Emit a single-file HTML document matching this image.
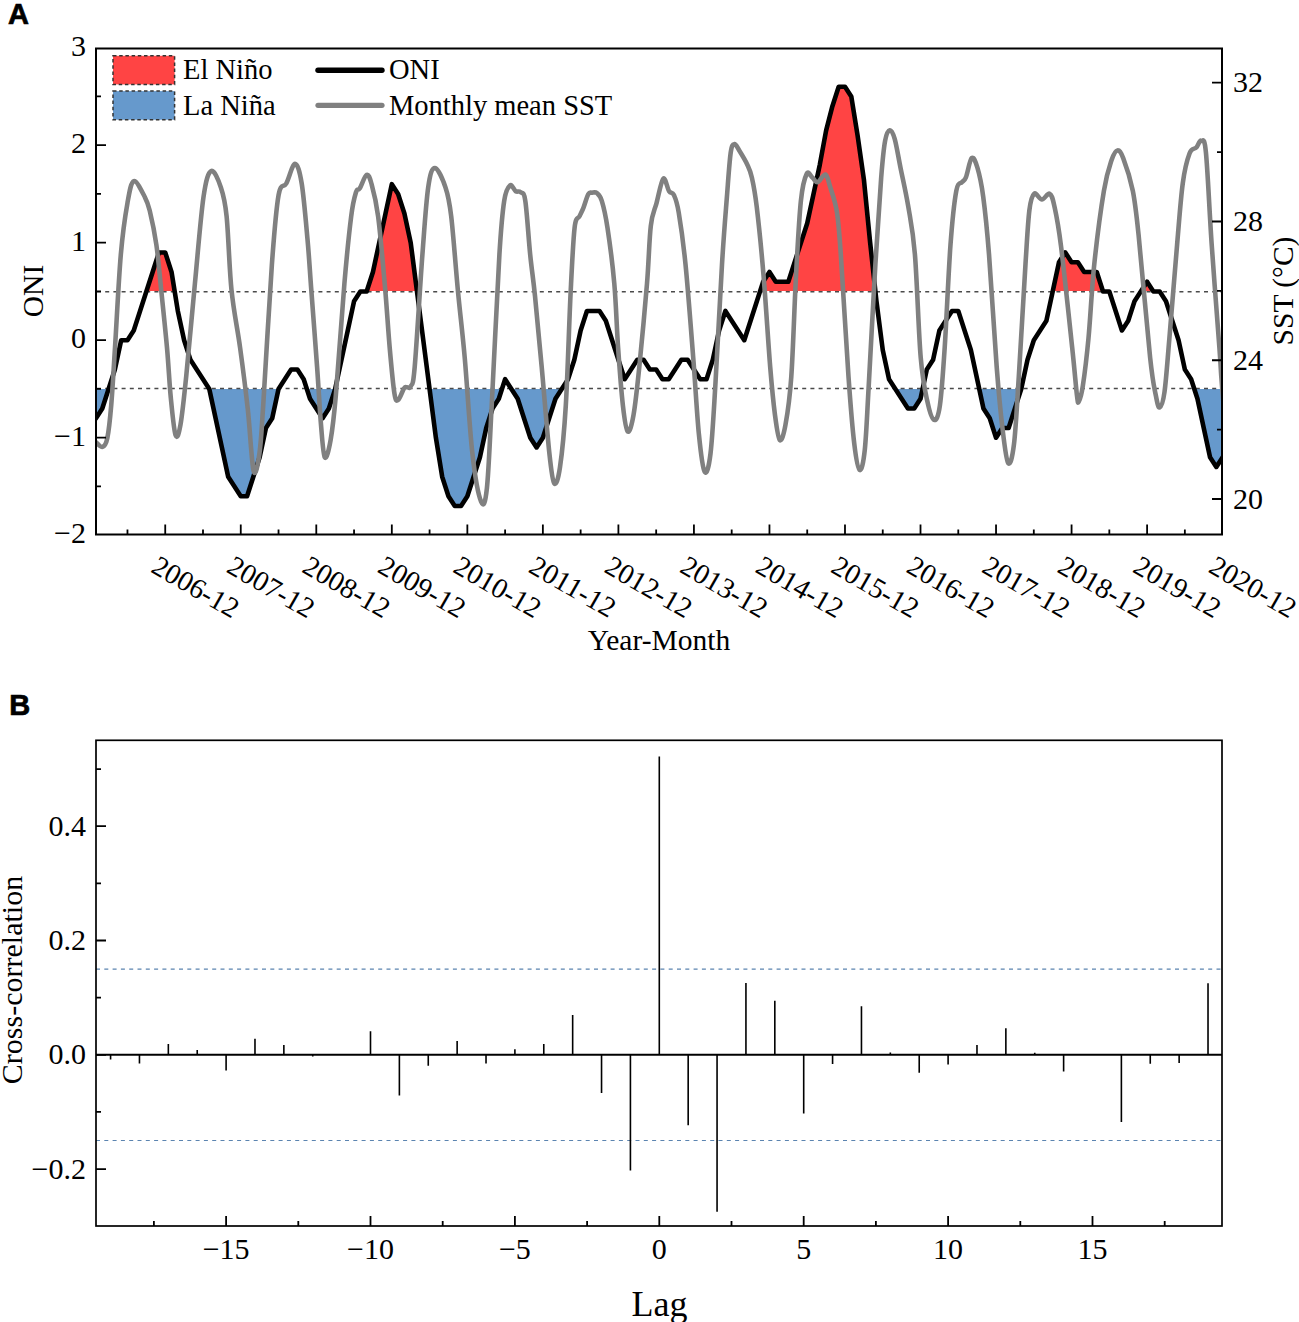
<!DOCTYPE html><html><head><meta charset="utf-8"><style>html,body{margin:0;padding:0;background:#fff;}svg{display:block;}</style></head><body>
<svg width="1299" height="1322" viewBox="0 0 1299 1322">
<rect width="1299" height="1322" fill="#fff"/>
<defs><clipPath id="cEl"><rect x="96.00" y="48.50" width="1126.00" height="242.50"/></clipPath>
<clipPath id="cPlot"><rect x="96" y="48" width="1126" height="486.5"/></clipPath>
<clipPath id="cLa"><rect x="96.00" y="389.00" width="1126.00" height="145.50"/></clipPath></defs>
<path d="M96.00,418.20 L102.29,408.45 L108.59,388.95 L114.88,369.45 L121.18,340.20 L127.47,340.20 L133.76,330.45 L140.06,310.95 L146.35,291.45 L152.65,271.95 L158.94,252.45 L165.23,252.45 L171.53,271.95 L177.82,310.95 L184.12,340.20 L190.41,359.70 L196.70,369.45 L203.00,379.20 L209.29,388.95 L215.59,418.20 L221.88,447.45 L228.17,476.70 L234.47,486.45 L240.76,496.20 L247.06,496.20 L253.35,476.70 L259.64,457.20 L265.94,427.95 L272.23,418.20 L278.53,388.95 L284.82,379.20 L291.11,369.45 L297.41,369.45 L303.70,379.20 L310.00,398.70 L316.29,408.45 L322.58,418.20 L328.88,408.45 L335.17,388.95 L341.47,359.70 L347.76,330.45 L354.05,301.20 L360.35,291.45 L366.64,291.45 L372.94,271.95 L379.23,242.70 L385.52,213.45 L391.82,184.20 L398.11,193.95 L404.41,213.45 L410.70,242.70 L416.99,291.45 L423.29,340.20 L429.58,388.95 L435.88,437.70 L442.17,476.70 L448.46,496.20 L454.76,505.95 L461.05,505.95 L467.35,496.20 L473.64,476.70 L479.93,457.20 L486.23,427.95 L492.52,408.45 L498.82,398.70 L505.11,379.20 L511.40,388.95 L517.70,398.70 L523.99,418.20 L530.29,437.70 L536.58,447.45 L542.87,437.70 L549.17,418.20 L555.46,398.70 L561.76,388.95 L568.05,379.20 L574.34,359.70 L580.64,330.45 L586.93,310.95 L593.23,310.95 L599.52,310.95 L605.81,320.70 L612.11,340.20 L618.40,359.70 L624.70,379.20 L630.99,369.45 L637.28,359.70 L643.58,359.70 L649.87,369.45 L656.17,369.45 L662.46,379.20 L668.75,379.20 L675.05,369.45 L681.34,359.70 L687.64,359.70 L693.93,369.45 L700.22,379.20 L706.52,379.20 L712.81,359.70 L719.11,330.45 L725.40,310.95 L731.69,320.70 L737.99,330.45 L744.28,340.20 L750.58,320.70 L756.87,301.20 L763.16,281.70 L769.46,271.95 L775.75,281.70 L782.05,281.70 L788.34,281.70 L794.63,262.20 L800.93,242.70 L807.22,223.20 L813.52,193.95 L819.81,164.70 L826.10,130.57 L832.40,106.20 L838.69,86.70 L844.99,86.70 L851.28,96.45 L857.57,135.45 L863.87,179.32 L870.16,242.70 L876.46,301.20 L882.75,349.95 L889.04,379.20 L895.34,388.95 L901.63,398.70 L907.93,408.45 L914.22,408.45 L920.51,398.70 L926.81,369.45 L933.10,359.70 L939.40,330.45 L945.69,320.70 L951.98,310.95 L958.28,310.95 L964.57,330.45 L970.87,349.95 L977.16,379.20 L983.45,408.45 L989.75,418.20 L996.04,437.70 L1002.34,427.95 L1008.63,427.95 L1014.92,408.45 L1021.22,388.95 L1027.51,359.70 L1033.81,340.20 L1040.10,330.45 L1046.39,320.70 L1052.69,291.45 L1058.98,262.20 L1065.28,252.45 L1071.57,262.20 L1077.86,262.20 L1084.16,271.95 L1090.45,271.95 L1096.75,271.95 L1103.04,291.45 L1109.33,291.45 L1115.63,310.95 L1121.92,330.45 L1128.22,320.70 L1134.51,301.20 L1140.80,291.45 L1147.10,281.70 L1153.39,291.45 L1159.69,291.45 L1165.98,301.20 L1172.27,320.70 L1178.57,340.20 L1184.86,369.45 L1191.16,379.20 L1197.45,398.70 L1203.74,427.95 L1210.04,457.20 L1216.33,466.95 L1222.63,457.20 L1222.63,291.00 L96.00,291.00 Z" fill="#ff4444" clip-path="url(#cEl)"/>
<path d="M96.00,418.20 L102.29,408.45 L108.59,388.95 L114.88,369.45 L121.18,340.20 L127.47,340.20 L133.76,330.45 L140.06,310.95 L146.35,291.45 L152.65,271.95 L158.94,252.45 L165.23,252.45 L171.53,271.95 L177.82,310.95 L184.12,340.20 L190.41,359.70 L196.70,369.45 L203.00,379.20 L209.29,388.95 L215.59,418.20 L221.88,447.45 L228.17,476.70 L234.47,486.45 L240.76,496.20 L247.06,496.20 L253.35,476.70 L259.64,457.20 L265.94,427.95 L272.23,418.20 L278.53,388.95 L284.82,379.20 L291.11,369.45 L297.41,369.45 L303.70,379.20 L310.00,398.70 L316.29,408.45 L322.58,418.20 L328.88,408.45 L335.17,388.95 L341.47,359.70 L347.76,330.45 L354.05,301.20 L360.35,291.45 L366.64,291.45 L372.94,271.95 L379.23,242.70 L385.52,213.45 L391.82,184.20 L398.11,193.95 L404.41,213.45 L410.70,242.70 L416.99,291.45 L423.29,340.20 L429.58,388.95 L435.88,437.70 L442.17,476.70 L448.46,496.20 L454.76,505.95 L461.05,505.95 L467.35,496.20 L473.64,476.70 L479.93,457.20 L486.23,427.95 L492.52,408.45 L498.82,398.70 L505.11,379.20 L511.40,388.95 L517.70,398.70 L523.99,418.20 L530.29,437.70 L536.58,447.45 L542.87,437.70 L549.17,418.20 L555.46,398.70 L561.76,388.95 L568.05,379.20 L574.34,359.70 L580.64,330.45 L586.93,310.95 L593.23,310.95 L599.52,310.95 L605.81,320.70 L612.11,340.20 L618.40,359.70 L624.70,379.20 L630.99,369.45 L637.28,359.70 L643.58,359.70 L649.87,369.45 L656.17,369.45 L662.46,379.20 L668.75,379.20 L675.05,369.45 L681.34,359.70 L687.64,359.70 L693.93,369.45 L700.22,379.20 L706.52,379.20 L712.81,359.70 L719.11,330.45 L725.40,310.95 L731.69,320.70 L737.99,330.45 L744.28,340.20 L750.58,320.70 L756.87,301.20 L763.16,281.70 L769.46,271.95 L775.75,281.70 L782.05,281.70 L788.34,281.70 L794.63,262.20 L800.93,242.70 L807.22,223.20 L813.52,193.95 L819.81,164.70 L826.10,130.57 L832.40,106.20 L838.69,86.70 L844.99,86.70 L851.28,96.45 L857.57,135.45 L863.87,179.32 L870.16,242.70 L876.46,301.20 L882.75,349.95 L889.04,379.20 L895.34,388.95 L901.63,398.70 L907.93,408.45 L914.22,408.45 L920.51,398.70 L926.81,369.45 L933.10,359.70 L939.40,330.45 L945.69,320.70 L951.98,310.95 L958.28,310.95 L964.57,330.45 L970.87,349.95 L977.16,379.20 L983.45,408.45 L989.75,418.20 L996.04,437.70 L1002.34,427.95 L1008.63,427.95 L1014.92,408.45 L1021.22,388.95 L1027.51,359.70 L1033.81,340.20 L1040.10,330.45 L1046.39,320.70 L1052.69,291.45 L1058.98,262.20 L1065.28,252.45 L1071.57,262.20 L1077.86,262.20 L1084.16,271.95 L1090.45,271.95 L1096.75,271.95 L1103.04,291.45 L1109.33,291.45 L1115.63,310.95 L1121.92,330.45 L1128.22,320.70 L1134.51,301.20 L1140.80,291.45 L1147.10,281.70 L1153.39,291.45 L1159.69,291.45 L1165.98,301.20 L1172.27,320.70 L1178.57,340.20 L1184.86,369.45 L1191.16,379.20 L1197.45,398.70 L1203.74,427.95 L1210.04,457.20 L1216.33,466.95 L1222.63,457.20 L1222.63,389.00 L96.00,389.00 Z" fill="#6699cc" clip-path="url(#cLa)"/>
<line x1="97.0" y1="291.80" x2="1222.0" y2="291.80" stroke="#4a4a4a" stroke-width="1.5" stroke-dasharray="4 4.2"/>
<line x1="97.0" y1="388.50" x2="1222.0" y2="388.50" stroke="#4a4a4a" stroke-width="1.5" stroke-dasharray="4 4.2"/>
<g clip-path="url(#cPlot)">
<path d="M96.00,418.20 L102.29,408.45 L108.59,388.95 L114.88,369.45 L121.18,340.20 L127.47,340.20 L133.76,330.45 L140.06,310.95 L146.35,291.45 L152.65,271.95 L158.94,252.45 L165.23,252.45 L171.53,271.95 L177.82,310.95 L184.12,340.20 L190.41,359.70 L196.70,369.45 L203.00,379.20 L209.29,388.95 L215.59,418.20 L221.88,447.45 L228.17,476.70 L234.47,486.45 L240.76,496.20 L247.06,496.20 L253.35,476.70 L259.64,457.20 L265.94,427.95 L272.23,418.20 L278.53,388.95 L284.82,379.20 L291.11,369.45 L297.41,369.45 L303.70,379.20 L310.00,398.70 L316.29,408.45 L322.58,418.20 L328.88,408.45 L335.17,388.95 L341.47,359.70 L347.76,330.45 L354.05,301.20 L360.35,291.45 L366.64,291.45 L372.94,271.95 L379.23,242.70 L385.52,213.45 L391.82,184.20 L398.11,193.95 L404.41,213.45 L410.70,242.70 L416.99,291.45 L423.29,340.20 L429.58,388.95 L435.88,437.70 L442.17,476.70 L448.46,496.20 L454.76,505.95 L461.05,505.95 L467.35,496.20 L473.64,476.70 L479.93,457.20 L486.23,427.95 L492.52,408.45 L498.82,398.70 L505.11,379.20 L511.40,388.95 L517.70,398.70 L523.99,418.20 L530.29,437.70 L536.58,447.45 L542.87,437.70 L549.17,418.20 L555.46,398.70 L561.76,388.95 L568.05,379.20 L574.34,359.70 L580.64,330.45 L586.93,310.95 L593.23,310.95 L599.52,310.95 L605.81,320.70 L612.11,340.20 L618.40,359.70 L624.70,379.20 L630.99,369.45 L637.28,359.70 L643.58,359.70 L649.87,369.45 L656.17,369.45 L662.46,379.20 L668.75,379.20 L675.05,369.45 L681.34,359.70 L687.64,359.70 L693.93,369.45 L700.22,379.20 L706.52,379.20 L712.81,359.70 L719.11,330.45 L725.40,310.95 L731.69,320.70 L737.99,330.45 L744.28,340.20 L750.58,320.70 L756.87,301.20 L763.16,281.70 L769.46,271.95 L775.75,281.70 L782.05,281.70 L788.34,281.70 L794.63,262.20 L800.93,242.70 L807.22,223.20 L813.52,193.95 L819.81,164.70 L826.10,130.57 L832.40,106.20 L838.69,86.70 L844.99,86.70 L851.28,96.45 L857.57,135.45 L863.87,179.32 L870.16,242.70 L876.46,301.20 L882.75,349.95 L889.04,379.20 L895.34,388.95 L901.63,398.70 L907.93,408.45 L914.22,408.45 L920.51,398.70 L926.81,369.45 L933.10,359.70 L939.40,330.45 L945.69,320.70 L951.98,310.95 L958.28,310.95 L964.57,330.45 L970.87,349.95 L977.16,379.20 L983.45,408.45 L989.75,418.20 L996.04,437.70 L1002.34,427.95 L1008.63,427.95 L1014.92,408.45 L1021.22,388.95 L1027.51,359.70 L1033.81,340.20 L1040.10,330.45 L1046.39,320.70 L1052.69,291.45 L1058.98,262.20 L1065.28,252.45 L1071.57,262.20 L1077.86,262.20 L1084.16,271.95 L1090.45,271.95 L1096.75,271.95 L1103.04,291.45 L1109.33,291.45 L1115.63,310.95 L1121.92,330.45 L1128.22,320.70 L1134.51,301.20 L1140.80,291.45 L1147.10,281.70 L1153.39,291.45 L1159.69,291.45 L1165.98,301.20 L1172.27,320.70 L1178.57,340.20 L1184.86,369.45 L1191.16,379.20 L1197.45,398.70 L1203.74,427.95 L1210.04,457.20 L1216.33,466.95 L1222.63,457.20" fill="none" stroke="#000" stroke-width="4.6" stroke-linejoin="round" stroke-linecap="round"/>
<path d="M95.80,442.00 C96.92,442.82 100.58,447.53 102.50,446.90 C104.42,446.27 105.85,445.10 107.30,438.20 C108.75,431.30 109.92,420.58 111.20,405.50 C112.48,390.42 113.40,372.83 115.00,347.70 C116.60,322.57 118.72,278.85 120.80,254.70 C122.88,230.55 125.32,215.05 127.50,202.80 C129.68,190.55 131.02,182.17 133.90,181.20 C136.78,180.23 142.17,192.12 144.80,197.00 C147.43,201.88 147.77,202.50 149.70,210.50 C151.63,218.50 154.48,231.75 156.40,245.00 C158.32,258.25 159.43,272.88 161.20,290.00 C162.97,307.12 165.40,329.73 167.00,347.70 C168.60,365.67 169.37,383.20 170.80,397.80 C172.23,412.40 173.98,430.82 175.60,435.30 C177.22,439.78 178.73,434.48 180.50,424.70 C182.27,414.92 183.80,400.12 186.20,376.60 C188.60,353.08 192.02,313.53 194.90,283.60 C197.78,253.67 200.78,215.77 203.50,197.00 C206.22,178.23 208.30,172.60 211.20,171.00 C214.10,169.40 218.33,179.87 220.90,187.40 C223.47,194.93 224.83,199.10 226.60,216.20 C228.37,233.30 229.25,268.08 231.50,290.00 C233.75,311.92 237.38,327.82 240.10,347.70 C242.82,367.58 245.55,388.77 247.80,409.30 C250.05,429.83 251.67,463.52 253.60,470.90 C255.53,478.28 257.80,464.50 259.40,453.60 C261.00,442.70 261.12,437.05 263.20,405.50 C265.28,373.95 269.33,299.38 271.90,264.30 C274.47,229.22 276.20,208.47 278.60,195.00 C281.00,181.53 283.57,188.68 286.30,183.50 C289.03,178.32 292.43,163.90 295.00,163.90 C297.57,163.90 299.62,170.93 301.70,183.50 C303.78,196.07 305.90,221.55 307.50,239.30 C309.10,257.05 309.70,268.72 311.30,290.00 C312.90,311.28 315.48,344.55 317.10,367.00 C318.72,389.45 319.72,409.63 321.00,424.70 C322.28,439.77 323.20,454.83 324.80,457.40 C326.40,459.97 328.77,450.37 330.60,440.10 C332.43,429.83 333.50,421.88 335.80,395.80 C338.10,369.72 341.83,313.53 344.40,283.60 C346.97,253.67 349.27,231.43 351.20,216.20 C353.13,200.97 354.57,196.85 356.00,192.20 C357.43,187.55 358.03,191.18 359.80,188.30 C361.57,185.42 364.67,175.70 366.60,174.90 C368.53,174.10 369.48,176.62 371.40,183.50 C373.32,190.38 375.83,198.95 378.10,216.20 C380.37,233.45 383.07,265.08 385.00,287.00 C386.93,308.92 388.12,329.88 389.70,347.70 C391.28,365.52 393.07,385.23 394.50,393.90 C395.93,402.57 396.70,400.65 398.30,399.70 C399.90,398.75 402.65,390.28 404.10,388.20 C405.55,386.12 405.88,387.53 407.00,387.20 C408.12,386.87 409.52,389.57 410.80,386.20 C412.08,382.83 412.77,388.92 414.70,367.00 C416.63,345.08 420.15,284.63 422.40,254.70 C424.65,224.77 426.12,201.83 428.20,187.40 C430.28,172.97 432.02,168.10 434.90,168.10 C437.78,168.10 442.78,179.38 445.50,187.40 C448.22,195.42 449.12,198.83 451.20,216.20 C453.28,233.57 455.75,268.07 458.00,291.60 C460.25,315.13 462.30,330.40 464.70,357.40 C467.10,384.40 469.67,429.55 472.40,453.60 C475.13,477.65 478.68,495.93 481.10,501.70 C483.52,507.47 485.13,504.23 486.90,488.20 C488.67,472.17 489.62,444.42 491.70,405.50 C493.78,366.58 497.32,288.82 499.40,254.70 C501.48,220.58 502.43,212.35 504.20,200.80 C505.97,189.25 508.08,187.00 510.00,185.40 C511.92,183.80 513.95,190.07 515.70,191.20 C517.45,192.33 518.90,190.60 520.50,192.20 C522.10,193.80 523.68,190.38 525.30,200.80 C526.92,211.22 528.58,238.83 530.20,254.70 C531.82,270.57 533.08,277.28 535.00,296.00 C536.92,314.72 539.30,340.73 541.70,367.00 C544.10,393.27 547.32,434.20 549.40,453.60 C551.48,473.00 552.43,481.15 554.20,483.40 C555.97,485.65 558.07,480.08 560.00,467.10 C561.93,454.12 564.03,434.48 565.80,405.50 C567.57,376.52 569.13,322.82 570.60,293.20 C572.07,263.58 573.10,240.63 574.60,227.80 C576.10,214.97 578.12,219.57 579.60,216.20 C581.08,212.83 582.05,211.28 583.50,207.60 C584.95,203.92 586.87,196.58 588.30,194.10 C589.73,191.62 590.67,192.87 592.10,192.70 C593.53,192.53 595.28,191.75 596.90,193.10 C598.52,194.45 600.03,195.02 601.80,200.80 C603.57,206.58 605.42,214.00 607.50,227.80 C609.58,241.60 612.53,263.62 614.30,283.60 C616.07,303.58 616.67,327.38 618.10,347.70 C619.53,368.02 621.30,391.53 622.90,405.50 C624.50,419.47 625.93,429.90 627.70,431.50 C629.47,433.10 631.57,425.85 633.50,415.10 C635.43,404.35 637.05,388.92 639.30,367.00 C641.55,345.08 645.08,307.12 647.00,283.60 C648.92,260.08 649.20,239.37 650.80,225.90 C652.40,212.43 654.52,210.67 656.60,202.80 C658.68,194.93 661.22,180.63 663.30,178.70 C665.38,176.77 667.33,188.48 669.10,191.20 C670.87,193.92 672.30,191.47 673.90,195.00 C675.50,198.53 676.77,200.85 678.70,212.40 C680.63,223.95 683.08,240.13 685.50,264.30 C687.92,288.47 690.97,329.07 693.20,357.40 C695.43,385.73 696.98,415.22 698.90,434.30 C700.82,453.38 702.77,468.68 704.70,471.90 C706.63,475.12 708.73,467.88 710.50,453.60 C712.27,439.32 713.38,417.75 715.30,386.20 C717.22,354.65 720.07,295.83 722.00,264.30 C723.93,232.77 725.45,215.60 726.90,197.00 C728.35,178.40 729.43,161.52 730.70,152.70 C731.97,143.88 733.05,144.42 734.50,144.10 C735.95,143.78 737.30,147.43 739.40,150.80 C741.50,154.17 745.02,159.82 747.10,164.30 C749.18,168.78 750.30,170.65 751.90,177.70 C753.50,184.75 754.77,190.38 756.70,206.60 C758.63,222.82 761.25,248.27 763.50,275.00 C765.75,301.73 768.28,343.65 770.20,367.00 C772.12,390.35 773.40,402.92 775.00,415.10 C776.60,427.28 778.05,438.50 779.80,440.10 C781.55,441.70 783.58,435.28 785.50,424.70 C787.42,414.12 789.53,401.72 791.30,376.60 C793.07,351.48 794.50,303.30 796.10,274.00 C797.70,244.70 799.13,217.48 800.90,200.80 C802.67,184.12 804.77,177.75 806.70,173.90 C808.63,170.05 810.67,176.32 812.50,177.70 C814.33,179.08 815.55,182.73 817.70,182.20 C819.85,181.67 823.32,173.70 825.40,174.50 C827.48,175.30 828.28,180.75 830.20,187.00 C832.12,193.25 835.13,200.78 836.90,212.00 C838.67,223.22 838.87,226.87 840.80,254.30 C842.73,281.73 846.25,344.98 848.50,376.60 C850.75,408.22 852.43,428.43 854.30,444.00 C856.17,459.57 857.95,469.05 859.70,470.00 C861.45,470.95 863.30,463.67 864.80,449.70 C866.30,435.73 866.93,417.15 868.70,386.20 C870.47,355.25 873.32,298.80 875.40,264.00 C877.48,229.20 879.58,197.93 881.20,177.40 C882.82,156.87 883.65,148.67 885.10,140.80 C886.55,132.93 888.30,130.52 889.90,130.20 C891.50,129.88 892.93,132.65 894.70,138.90 C896.47,145.15 898.25,156.48 900.50,167.70 C902.75,178.92 905.80,191.77 908.20,206.20 C910.60,220.63 912.82,229.10 914.90,254.30 C916.98,279.50 918.62,332.85 920.70,357.40 C922.78,381.95 925.17,391.18 927.40,401.60 C929.63,412.02 932.02,419.25 934.10,419.90 C936.18,420.55 938.13,417.53 939.90,405.50 C941.67,393.47 942.93,374.50 944.70,347.70 C946.47,320.90 948.57,270.85 950.50,244.70 C952.43,218.55 954.38,201.22 956.30,190.80 C958.22,180.38 960.40,184.43 962.00,182.20 C963.60,179.97 964.28,181.42 965.90,177.40 C967.52,173.38 969.78,159.72 971.70,158.10 C973.62,156.48 975.48,161.28 977.40,167.70 C979.32,174.12 981.27,182.17 983.20,196.60 C985.13,211.03 986.75,225.90 989.00,254.30 C991.25,282.70 994.45,337.95 996.70,367.00 C998.95,396.05 1000.58,412.57 1002.50,428.60 C1004.42,444.63 1006.28,460.63 1008.20,463.20 C1010.12,465.77 1012.23,458.43 1014.00,444.00 C1015.77,429.57 1016.88,406.60 1018.80,376.60 C1020.72,346.60 1023.73,291.75 1025.50,264.00 C1027.27,236.25 1027.95,221.82 1029.40,210.10 C1030.85,198.38 1032.12,195.47 1034.20,193.70 C1036.28,191.93 1039.33,199.50 1041.90,199.50 C1044.47,199.50 1047.52,192.58 1049.60,193.70 C1051.68,194.82 1052.50,197.48 1054.40,206.20 C1056.30,214.92 1058.03,222.42 1061.00,246.00 C1063.97,269.58 1069.53,322.73 1072.20,347.70 C1074.87,372.67 1075.88,386.88 1077.00,395.80 C1078.12,404.72 1077.93,402.80 1078.90,401.20 C1079.87,399.60 1081.20,396.72 1082.80,386.20 C1084.40,375.68 1086.58,358.47 1088.50,338.10 C1090.42,317.73 1091.73,288.55 1094.30,264.00 C1096.87,239.45 1101.02,208.13 1103.90,190.80 C1106.78,173.47 1109.35,166.73 1111.60,160.00 C1113.85,153.27 1115.47,150.72 1117.40,150.40 C1119.33,150.08 1120.63,151.37 1123.20,158.10 C1125.77,164.83 1130.23,177.97 1132.80,190.80 C1135.37,203.63 1135.72,207.33 1138.60,235.10 C1141.48,262.87 1147.22,330.62 1150.10,357.40 C1152.98,384.18 1154.30,387.47 1155.90,395.80 C1157.50,404.13 1158.27,408.03 1159.70,407.40 C1161.13,406.77 1162.88,403.55 1164.50,392.00 C1166.12,380.45 1167.30,362.65 1169.40,338.10 C1171.50,313.55 1174.87,270.53 1177.10,244.70 C1179.33,218.87 1180.72,198.33 1182.80,183.10 C1184.88,167.87 1187.35,159.23 1189.60,153.30 C1191.85,147.37 1194.38,149.58 1196.30,147.50 C1198.22,145.42 1199.50,140.00 1201.10,140.80 C1202.70,141.60 1204.13,134.98 1205.90,152.30 C1207.67,169.62 1209.45,212.13 1211.70,244.70 C1213.95,277.27 1217.80,325.72 1219.40,347.70 C1221.00,369.68 1220.53,366.22 1221.30,376.60 C1222.07,386.98 1223.55,404.43 1224.00,410.00" fill="none" stroke="#808080" stroke-width="4.6" stroke-linejoin="round" stroke-linecap="round"/>
</g>
<rect x="96.0" y="48.5" width="1126.0" height="486.0" fill="none" stroke="#000" stroke-width="2"/>
<text x="86" y="532.70" font-family="Liberation Serif" font-size="30" text-anchor="end" dominant-baseline="central">−2</text>
<text x="86" y="435.20" font-family="Liberation Serif" font-size="30" text-anchor="end" dominant-baseline="central">−1</text>
<text x="86" y="337.70" font-family="Liberation Serif" font-size="30" text-anchor="end" dominant-baseline="central">0</text>
<text x="86" y="240.20" font-family="Liberation Serif" font-size="30" text-anchor="end" dominant-baseline="central">1</text>
<text x="86" y="142.70" font-family="Liberation Serif" font-size="30" text-anchor="end" dominant-baseline="central">2</text>
<text x="86" y="45.20" font-family="Liberation Serif" font-size="30" text-anchor="end" dominant-baseline="central">3</text>
<text x="1233" y="498.00" font-family="Liberation Serif" font-size="30" dominant-baseline="central">20</text>
<text x="1233" y="359.24" font-family="Liberation Serif" font-size="30" dominant-baseline="central">24</text>
<text x="1233" y="220.48" font-family="Liberation Serif" font-size="30" dominant-baseline="central">28</text>
<text x="1233" y="81.72" font-family="Liberation Serif" font-size="30" dominant-baseline="central">32</text>
<text transform="translate(149.73,571.50) rotate(30)" font-family="Liberation Serif" font-size="28.5">2006-12</text>
<text transform="translate(225.26,571.50) rotate(30)" font-family="Liberation Serif" font-size="28.5">2007-12</text>
<text transform="translate(300.79,571.50) rotate(30)" font-family="Liberation Serif" font-size="28.5">2008-12</text>
<text transform="translate(376.32,571.50) rotate(30)" font-family="Liberation Serif" font-size="28.5">2009-12</text>
<text transform="translate(451.85,571.50) rotate(30)" font-family="Liberation Serif" font-size="28.5">2010-12</text>
<text transform="translate(527.37,571.50) rotate(30)" font-family="Liberation Serif" font-size="28.5">2011-12</text>
<text transform="translate(602.90,571.50) rotate(30)" font-family="Liberation Serif" font-size="28.5">2012-12</text>
<text transform="translate(678.43,571.50) rotate(30)" font-family="Liberation Serif" font-size="28.5">2013-12</text>
<text transform="translate(753.96,571.50) rotate(30)" font-family="Liberation Serif" font-size="28.5">2014-12</text>
<text transform="translate(829.49,571.50) rotate(30)" font-family="Liberation Serif" font-size="28.5">2015-12</text>
<text transform="translate(905.01,571.50) rotate(30)" font-family="Liberation Serif" font-size="28.5">2016-12</text>
<text transform="translate(980.54,571.50) rotate(30)" font-family="Liberation Serif" font-size="28.5">2017-12</text>
<text transform="translate(1056.07,571.50) rotate(30)" font-family="Liberation Serif" font-size="28.5">2018-12</text>
<text transform="translate(1131.60,571.50) rotate(30)" font-family="Liberation Serif" font-size="28.5">2019-12</text>
<text transform="translate(1207.13,571.50) rotate(30)" font-family="Liberation Serif" font-size="28.5">2020-12</text>
<path d="M96.00,437.70 L106.00,437.70 M96.00,340.20 L106.00,340.20 M96.00,242.70 L106.00,242.70 M96.00,145.20 L106.00,145.20 M96.00,486.45 L101.00,486.45 M96.00,388.95 L101.00,388.95 M96.00,291.45 L101.00,291.45 M96.00,193.95 L101.00,193.95 M96.00,96.45 L101.00,96.45 M1222.00,499.00 L1212.00,499.00 M1222.00,360.24 L1212.00,360.24 M1222.00,221.48 L1212.00,221.48 M1222.00,82.72 L1212.00,82.72 M1222.00,429.62 L1217.00,429.62 M1222.00,290.86 L1217.00,290.86 M1222.00,152.10 L1217.00,152.10 M165.23,534.50 L165.23,524.50 M240.76,534.50 L240.76,524.50 M316.29,534.50 L316.29,524.50 M391.82,534.50 L391.82,524.50 M467.35,534.50 L467.35,524.50 M542.87,534.50 L542.87,524.50 M618.40,534.50 L618.40,524.50 M693.93,534.50 L693.93,524.50 M769.46,534.50 L769.46,524.50 M844.99,534.50 L844.99,524.50 M920.51,534.50 L920.51,524.50 M996.04,534.50 L996.04,524.50 M1071.57,534.50 L1071.57,524.50 M1147.10,534.50 L1147.10,524.50 M127.47,534.50 L127.47,529.50 M203.00,534.50 L203.00,529.50 M278.53,534.50 L278.53,529.50 M354.05,534.50 L354.05,529.50 M429.58,534.50 L429.58,529.50 M505.11,534.50 L505.11,529.50 M580.64,534.50 L580.64,529.50 M656.17,534.50 L656.17,529.50 M731.69,534.50 L731.69,529.50 M807.22,534.50 L807.22,529.50 M882.75,534.50 L882.75,529.50 M958.28,534.50 L958.28,529.50 M1033.81,534.50 L1033.81,529.50 M1109.33,534.50 L1109.33,529.50 M1184.86,534.50 L1184.86,529.50" stroke="#000" stroke-width="1.8" fill="none"/>
<text transform="translate(42.5,291) rotate(-90)" font-family="Liberation Serif" font-size="29.5" text-anchor="middle">ONI</text>
<text transform="translate(1293,291) rotate(-90)" font-family="Liberation Serif" font-size="29.5" text-anchor="middle">SST (°C)</text>
<text x="659" y="650" font-family="Liberation Serif" font-size="29.5" text-anchor="middle">Year-Month</text>
<text x="8" y="24" font-family="Liberation Sans" font-weight="bold" font-size="29" stroke="#000" stroke-width="0.7">A</text>
<rect x="113" y="55.8" width="61.6" height="28.6" fill="#ff4444" stroke="#333" stroke-width="1.5" stroke-dasharray="3.5 2.7"/>
<rect x="113" y="91.1" width="61.6" height="28.6" fill="#6699cc" stroke="#333" stroke-width="1.5" stroke-dasharray="3.5 2.7"/>
<text x="183" y="79" font-family="Liberation Serif" font-size="28.5">El Niño</text>
<text x="183" y="114.8" font-family="Liberation Serif" font-size="28.5">La Niña</text>
<line x1="318" y1="70.3" x2="382" y2="70.3" stroke="#000" stroke-width="5.4" stroke-linecap="round"/>
<line x1="318" y1="105.3" x2="382" y2="105.3" stroke="#808080" stroke-width="5.2" stroke-linecap="round"/>
<text x="389" y="79" font-family="Liberation Serif" font-size="28.5">ONI</text>
<text x="389" y="114.8" font-family="Liberation Serif" font-size="28.5">Monthly mean SST</text>
<text x="9.3" y="714.8" font-family="Liberation Sans" font-weight="bold" font-size="29" stroke="#000" stroke-width="0.7">B</text>
<line x1="96.0" y1="969.07" x2="1222.0" y2="969.07" stroke="#5b84b0" stroke-width="1.2" stroke-dasharray="4 4.3"/>
<line x1="96.0" y1="1140.52" x2="1222.0" y2="1140.52" stroke="#5b84b0" stroke-width="1.2" stroke-dasharray="4 4.3"/>
<path d="M110.58,1054.80 L110.58,1059.60 M139.46,1054.80 L139.46,1063.50 M168.34,1054.80 L168.34,1043.90 M197.22,1054.80 L197.22,1049.90 M226.10,1054.80 L226.10,1070.40 M254.98,1054.80 L254.98,1038.80 M283.86,1054.80 L283.86,1045.00 M312.74,1054.80 L312.74,1056.60 M341.62,1054.80 L341.62,1054.40 M370.50,1054.80 L370.50,1031.20 M399.38,1054.80 L399.38,1095.40 M428.26,1054.80 L428.26,1065.80 M457.14,1054.80 L457.14,1041.10 M486.02,1054.80 L486.02,1063.50 M514.90,1054.80 L514.90,1049.20 M543.78,1054.80 L543.78,1043.90 M572.66,1054.80 L572.66,1015.00 M601.54,1054.80 L601.54,1093.00 M630.42,1054.80 L630.42,1170.50 M659.30,1054.80 L659.30,756.50 M688.18,1054.80 L688.18,1125.30 M717.06,1054.80 L717.06,1211.80 M745.94,1054.80 L745.94,983.00 M774.82,1054.80 L774.82,1000.70 M803.70,1054.80 L803.70,1113.50 M832.58,1054.80 L832.58,1063.90 M861.46,1054.80 L861.46,1006.20 M890.34,1054.80 L890.34,1052.40 M919.22,1054.80 L919.22,1072.70 M948.10,1054.80 L948.10,1064.60 M976.98,1054.80 L976.98,1045.00 M1005.86,1054.80 L1005.86,1028.20 M1034.74,1054.80 L1034.74,1052.80 M1063.62,1054.80 L1063.62,1071.60 M1092.50,1054.80 L1092.50,1054.40 M1121.38,1054.80 L1121.38,1122.00 M1150.26,1054.80 L1150.26,1063.70 M1179.14,1054.80 L1179.14,1063.10 M1208.02,1054.80 L1208.02,983.30" stroke="#000" stroke-width="1.6" fill="none"/>
<line x1="96.0" y1="1054.80" x2="1222.0" y2="1054.80" stroke="#000" stroke-width="2"/>
<rect x="96.0" y="740.3" width="1126.0" height="485.7" fill="none" stroke="#000" stroke-width="1.7"/>
<text x="86" y="1168.10" font-family="Liberation Serif" font-size="30" text-anchor="end" dominant-baseline="central">−0.2</text>
<text x="86" y="1053.80" font-family="Liberation Serif" font-size="30" text-anchor="end" dominant-baseline="central">0.0</text>
<text x="86" y="939.50" font-family="Liberation Serif" font-size="30" text-anchor="end" dominant-baseline="central">0.2</text>
<text x="86" y="825.20" font-family="Liberation Serif" font-size="30" text-anchor="end" dominant-baseline="central">0.4</text>
<text x="226.10" y="1258.5" font-family="Liberation Serif" font-size="30" text-anchor="middle">−15</text>
<text x="370.50" y="1258.5" font-family="Liberation Serif" font-size="30" text-anchor="middle">−10</text>
<text x="514.90" y="1258.5" font-family="Liberation Serif" font-size="30" text-anchor="middle">−5</text>
<text x="659.30" y="1258.5" font-family="Liberation Serif" font-size="30" text-anchor="middle">0</text>
<text x="803.70" y="1258.5" font-family="Liberation Serif" font-size="30" text-anchor="middle">5</text>
<text x="948.10" y="1258.5" font-family="Liberation Serif" font-size="30" text-anchor="middle">10</text>
<text x="1092.50" y="1258.5" font-family="Liberation Serif" font-size="30" text-anchor="middle">15</text>
<path d="M96.00,1169.10 L106.00,1169.10 M96.00,1054.80 L106.00,1054.80 M96.00,940.50 L106.00,940.50 M96.00,826.20 L106.00,826.20 M96.00,1111.95 L101.00,1111.95 M96.00,997.65 L101.00,997.65 M96.00,883.35 L101.00,883.35 M96.00,769.05 L101.00,769.05 M226.10,1226.00 L226.10,1216.00 M370.50,1226.00 L370.50,1216.00 M514.90,1226.00 L514.90,1216.00 M659.30,1226.00 L659.30,1216.00 M803.70,1226.00 L803.70,1216.00 M948.10,1226.00 L948.10,1216.00 M1092.50,1226.00 L1092.50,1216.00 M153.90,1226.00 L153.90,1221.00 M298.30,1226.00 L298.30,1221.00 M442.70,1226.00 L442.70,1221.00 M587.10,1226.00 L587.10,1221.00 M731.50,1226.00 L731.50,1221.00 M875.90,1226.00 L875.90,1221.00 M1020.30,1226.00 L1020.30,1221.00 M1164.70,1226.00 L1164.70,1221.00" stroke="#000" stroke-width="1.8" fill="none"/>
<text transform="translate(22,980) rotate(-90)" font-family="Liberation Serif" font-size="30" text-anchor="middle">Cross-correlation</text>
<text x="659.5" y="1315.5" font-family="Liberation Serif" font-size="36" text-anchor="middle">Lag</text>
</svg></body></html>
